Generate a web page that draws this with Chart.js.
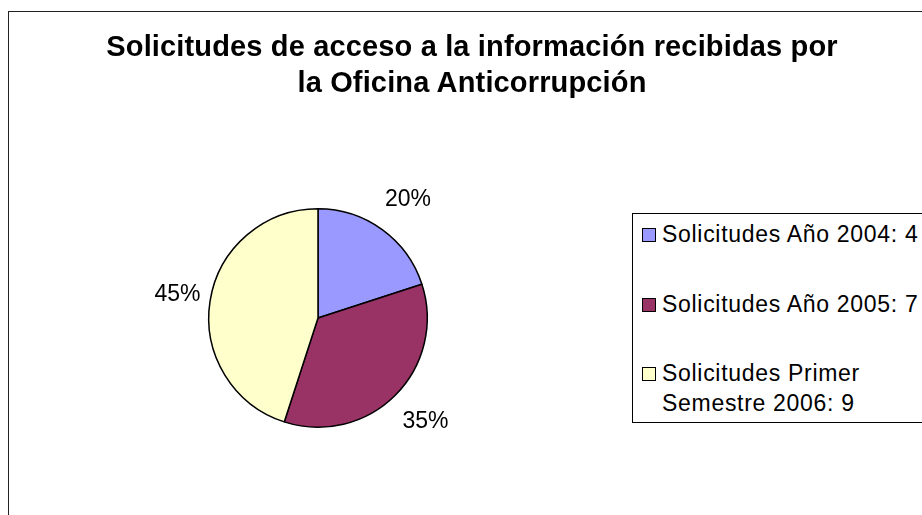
<!DOCTYPE html>
<html lang="es">
<head>
<meta charset="utf-8">
<title>Solicitudes de acceso a la información</title>
<script src="https://cdn.jsdelivr.net/npm/chart.js@4"></script>
<style>
    html, body { margin: 0; padding: 0; background: #fff; }
    body { width: 922px; height: 515px; position: relative; overflow: hidden; font-family: "Liberation Sans", Arial, sans-serif; }
    #frame { position: absolute; left: 8px; top: 11px; width: 960px; height: 600px; border: 1.5px solid #222; box-sizing: border-box; }
    #chart { position: absolute; left: 0; top: 0; }
    #title { position: absolute; left: 0; top: 28px; width: 944px; text-align: center; font-weight: bold; font-size: 29px; line-height: 36px; letter-spacing: 0.15px; color: #000; }
    #legend { position: absolute; left: 632px; top: 213px; width: 400px; height: 210px; border: 1.5px solid #000; box-sizing: border-box; background: #fff; }
    .legend-item { position: absolute; left: 0; }
    .legend-box { position: absolute; left: 9px; top: 9px; width: 14px; height: 14px; border: 1.5px solid #000; box-sizing: border-box; }
    .legend-text { position: absolute; left: 29px; top: 0; width: 272px; font-size: 23px; line-height: 30px; letter-spacing: 0.7px; color: #000; white-space: normal; }
</style>
</head>
<body>
<div id="frame"></div>
<canvas id="chart" width="922" height="515"></canvas>
<div id="title">Solicitudes de acceso a la información recibidas por<br>la Oficina Anticorrupción</div>
<div id="legend"></div>
<script>
// Datos del gráfico
const categories = ["Solicitudes Año 2004", "Solicitudes Año 2005", "Solicitudes Primer Semestre 2006"];
const values = [4, 7, 9];
const colors = ["#9999FF", "#993366", "#FFFFCC"];

document.addEventListener("DOMContentLoaded", function () {
    const total = values.reduce((a, b) => a + b, 0);

    // Percent labels outside each slice
    const outsideLabels = {
        id: "outsideLabels",
        afterDatasetsDraw(chart) {
            const ctx = chart.ctx;
            const meta = chart.getDatasetMeta(0);
            ctx.save();
            ctx.font = "23px 'Liberation Sans', Arial, sans-serif";
            ctx.fillStyle = "#000";
            ctx.textAlign = "center";
            ctx.textBaseline = "middle";
            meta.data.forEach((arc, i) => {
                const mid = (arc.startAngle + arc.endAngle) / 2;
                const dist = arc.outerRadius + 37;
                const x = arc.x + Math.cos(mid) * dist + 4;
                const y = arc.y + Math.sin(mid) * dist;
                const pct = Math.round(values[i] / total * 100) + "%";
                ctx.fillText(pct, x, y);
            });
            ctx.restore();
        }
    };

    const ctx = document.getElementById("chart").getContext("2d");
    new Chart(ctx, {
        type: "pie",
        data: {
            labels: categories,
            datasets: [{
                data: values,
                backgroundColor: colors,
                borderColor: "#000",
                borderWidth: 1.5
            }]
        },
        options: {
            responsive: false,
            animation: false,
            layout: { padding: { left: 208, right: 494, top: 208, bottom: 87 } },
            plugins: {
                legend: { display: false },
                title: { display: false },
                tooltip: { enabled: false }
            }
        },
        plugins: [outsideLabels]
    });

    // Legend on the right, built from the same arrays
    const legend = document.getElementById("legend");
    const rowTops = [5, 75, 144];
    categories.forEach((name, i) => {
        let item = document.createElement("div");
        item.classList.add("legend-item");
        item.style.top = rowTops[i] + "px";
        item.innerHTML = `<div class="legend-box" style="background:${colors[i]}"></div>` +
            `<div class="legend-text">${name}: ${values[i]}</div>`;
        legend.appendChild(item);
    });
});
</script>
</body>
</html>
